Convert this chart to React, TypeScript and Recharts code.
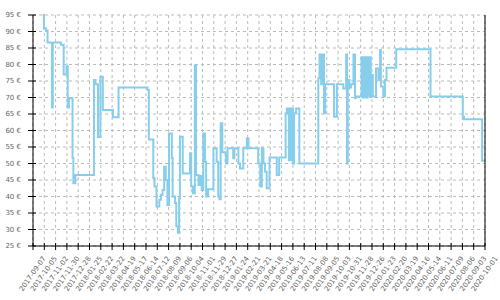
import { CartesianGrid, Line, LineChart, XAxis, YAxis } from "recharts";

// dates where the price changed, and the price from that date on
const changeDates = [
  "2017-10-01", "2017-10-04", "2017-10-09", "2017-10-13", "2017-10-24", "2017-10-26",
  "2017-11-15", "2017-11-22", "2017-11-29", "2017-12-02", "2017-12-05", "2017-12-14",
  "2017-12-16", "2017-12-21", "2018-02-05", "2018-02-09", "2018-02-15", "2018-02-21",
  "2018-02-27", "2018-03-24", "2018-04-07", "2018-06-18", "2018-06-21", "2018-07-02",
  "2018-07-05", "2018-07-10", "2018-07-17", "2018-07-21", "2018-07-25", "2018-07-29",
  "2018-08-02", "2018-08-06", "2018-08-10", "2018-08-17", "2018-08-19", "2018-08-25",
  "2018-08-28", "2018-09-01", "2018-09-04", "2018-09-06", "2018-09-13", "2018-10-01",
  "2018-10-04", "2018-10-08", "2018-10-13", "2018-10-16", "2018-10-22", "2018-10-26",
  "2018-10-30", "2018-11-03", "2018-11-07", "2018-11-10", "2018-11-15", "2018-11-28",
  "2018-12-06", "2018-12-10", "2018-12-13", "2018-12-16", "2018-12-20", "2018-12-29",
  "2019-01-02", "2019-01-16", "2019-01-19", "2019-01-29", "2019-02-02", "2019-02-10",
  "2019-02-19", "2019-02-23", "2019-03-19", "2019-03-24", "2019-03-28", "2019-04-01",
  "2019-04-05", "2019-04-09", "2019-04-16", "2019-05-04", "2019-05-10", "2019-05-26",
  "2019-05-29", "2019-06-03", "2019-06-08", "2019-06-13", "2019-06-16", "2019-06-21",
  "2019-06-29", "2019-08-15", "2019-08-18", "2019-08-22", "2019-08-24", "2019-08-29",
  "2019-09-01", "2019-09-23", "2019-09-30", "2019-10-16", "2019-10-23", "2019-10-25",
  "2019-10-27", "2019-10-31", "2019-11-04", "2019-11-10", "2019-11-14", "2019-11-16",
  "2019-11-30", "2019-12-03", "2019-12-05", "2019-12-07", "2019-12-10", "2019-12-12",
  "2019-12-15", "2019-12-17", "2019-12-20", "2019-12-23", "2019-12-26", "2019-12-28",
  "2020-01-05", "2020-01-11", "2020-01-15", "2020-01-17", "2020-01-23", "2020-01-27",
  "2020-01-31", "2020-02-24", "2020-05-19", "2020-08-07", "2020-08-10", "2020-09-24",
  "2020-10-01",
];

const prices = [
  95, 91, 90.3, 86.7, 67, 86.7,
  86, 77, 79.5, 67, 69.8, 51.7,
  44, 46.5, 75.3, 74, 58, 76.3,
  66.2, 64, 73, 72.3, 57.3, 45.6,
  43, 37, 39, 40.5, 42, 49,
  45, 37.4, 59.1, 51.7, 40, 38,
  31, 29, 39.5, 58.1, 47, 53.1,
  43, 41, 79.8, 46.5, 43.5, 46.2,
  42, 59.1, 50.5, 40, 42.2, 54.6,
  50.5, 40, 39.2, 62.2, 53.4, 50,
  54.6, 51.6, 54.6, 50, 48.5, 54.6,
  57.6, 54.6, 50, 43, 54.6, 50,
  47.5, 42.5, 51.8, 46.5, 51.8, 65.2,
  66.7, 51, 66.7, 50, 65.2, 66.7,
  50, 75.8, 83, 74, 83, 65.2,
  74, 64.2, 74, 72.7, 83, 50,
  75.3, 73, 74, 83, 69.8, 70.3,
  82.2, 70, 82.2, 70, 82.2, 70,
  82.2, 70.5, 82.2, 70.3, 76.8, 70.3,
  78.8, 75.3, 84.4, 73.3, 70.3, 75.3,
  79, 84.6, 70.3, 64.2, 63.4, 50.8,
  50.8,
];

const xTickLabels = [
  "2017-09-07", "2017-10-05", "2017-11-02", "2017-11-30", "2017-12-28", "2018-01-25",
  "2018-02-22", "2018-03-22", "2018-04-19", "2018-05-17", "2018-06-14", "2018-07-12",
  "2018-08-09", "2018-09-06", "2018-10-04", "2018-11-01", "2018-11-29", "2018-12-27",
  "2019-01-24", "2019-02-21", "2019-03-21", "2019-04-18", "2019-05-16", "2019-06-13",
  "2019-07-11", "2019-08-08", "2019-09-05", "2019-10-03", "2019-10-31", "2019-11-28",
  "2019-12-26", "2020-01-23", "2020-02-20", "2020-03-19", "2020-04-16", "2020-05-14",
  "2020-06-11", "2020-07-09", "2020-08-06", "2020-09-03", "2020-10-01",
];

const yTicks = [25, 30, 35, 40, 45, 50, 55, 60, 65, 70, 75, 80, 85, 90, 95];

const toTime = (d: string) => Date.parse(d + "T00:00:00Z");
const fmtDate = (t: number) => new Date(t).toISOString().slice(0, 10);

const rows = changeDates.map((d, i) => ({ t: toTime(d), price: prices[i] }));
const xTicks = xTickLabels.map(toTime);

const W = 500;
const H = 300;
const TOP = 15;
const Y_AXIS_W = 33;
const X_AXIS_H = 54;
// where the axis lines end up, used by the custom ticks
const AXIS_X = Y_AXIS_W;
const AXIS_Y = H - X_AXIS_H;

function YTick(props: any) {
  const { payload } = props;
  const y = payload.coordinate;
  return (
    <g>
      <path d={`M${AXIS_X - 5},${y}H${AXIS_X + 3}`} stroke="#000" strokeWidth={1} fill="none" />
      <text x={AXIS_X - 12} y={y} dy="0.35em" textAnchor="end" fontSize={7} fill="#666">
        {payload.value} €
      </text>
    </g>
  );
}

function XTick(props: any) {
  const { payload } = props;
  const x = payload.coordinate;
  const tx = x + 11;
  const ty = AXIS_Y + 11;
  return (
    <g>
      <path d={`M${x},${AXIS_Y - 3}V${AXIS_Y + 4}`} stroke="#000" strokeWidth={1} fill="none" />
      <text
        x={tx}
        y={ty}
        dy="0.35em"
        textAnchor="end"
        fontSize={7}
        fill="#666"
        transform={`rotate(-55, ${tx}, ${ty})`}
      >
        {fmtDate(payload.value)}
      </text>
    </g>
  );
}

export default function App() {
  return (
    <div style={{ position: "absolute", left: 0, top: 0, width: W, height: H, background: "#fff", fontFamily: "DejaVu Sans" }}>
      <LineChart width={W} height={H} data={rows} margin={{ top: TOP, right: 0, bottom: 0, left: 0 }}>
        <CartesianGrid stroke="#bbb" strokeDasharray="3 3" />
        <XAxis
          dataKey="t"
          type="number"
          domain={[xTicks[0], xTicks[xTicks.length - 1]]}
          ticks={xTicks}
          interval={0}
          height={X_AXIS_H}
          tickLine={false}
          tick={<XTick />}
          axisLine={{ stroke: "#000" }}
        />
        <YAxis
          domain={[25, 95]}
          ticks={yTicks}
          interval={0}
          width={Y_AXIS_W}
          tickLine={false}
          tick={<YTick />}
          axisLine={{ stroke: "#000" }}
        />
        <YAxis
          yAxisId="r"
          orientation="right"
          domain={[25, 95]}
          width={15}
          tick={false}
          tickLine={false}
          axisLine={{ stroke: "#000" }}
        />
        <Line
          type="stepAfter"
          dataKey="price"
          stroke="#87ceeb"
          strokeWidth={2}
          dot={false}
          isAnimationActive={false}
        />
      </LineChart>
    </div>
  );
}
